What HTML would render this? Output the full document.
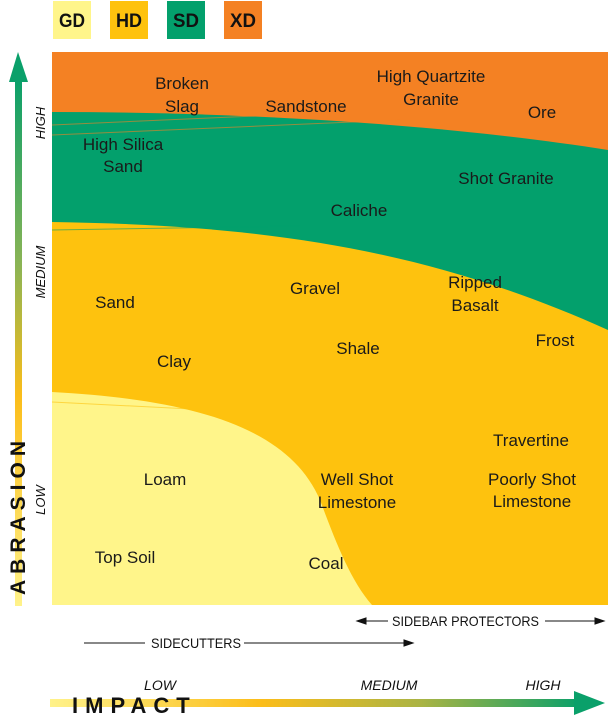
<!DOCTYPE html>
<html><head><style>
body{margin:0;background:#fff;}
svg{display:block;font-family:"Liberation Sans",sans-serif;}
</style></head><body>
<svg width="612" height="719" viewBox="0 0 612 719" xmlns="http://www.w3.org/2000/svg">
<defs>
<linearGradient id="vg" x1="0" y1="0" x2="0" y2="1">
<stop offset="0" stop-color="#0aa06a"/><stop offset="0.35" stop-color="#8ab455"/><stop offset="0.6" stop-color="#fbbd1a"/><stop offset="1" stop-color="#fff28a"/>
</linearGradient>
<linearGradient id="hg" x1="0" y1="0" x2="1" y2="0">
<stop offset="0" stop-color="#fff28a"/><stop offset="0.4" stop-color="#fbbd1a"/><stop offset="0.7" stop-color="#aab444"/><stop offset="1" stop-color="#0aa06a"/>
</linearGradient>
</defs>
<rect x="53" y="1" width="38" height="38" fill="#fff58a"/>
<rect x="110" y="1" width="38" height="38" fill="#fec20e"/>
<rect x="167" y="1" width="38" height="38" fill="#03a06c"/>
<rect x="224" y="1" width="38" height="38" fill="#f48123"/>
<g font-weight="bold" font-size="19" text-anchor="middle" fill="#111">
<text x="72" y="27" textLength="26" lengthAdjust="spacingAndGlyphs">GD</text><text x="129" y="27" textLength="26" lengthAdjust="spacingAndGlyphs">HD</text><text x="186" y="27" textLength="26" lengthAdjust="spacingAndGlyphs">SD</text><text x="243" y="27" textLength="26" lengthAdjust="spacingAndGlyphs">XD</text>
</g>
<rect x="52" y="52" width="556" height="553" fill="#f48123"/>
<path d="M52,112 C250,112 450,125 608,150 L608,605 L52,605 Z" fill="#03a06c"/>
<path d="M52,222 C250,225 420,245 608,330 L608,605 L52,605 Z" fill="#fec20e"/>
<path d="M52,392 C200,400 290,430 320,500 C335,540 350,580 372,605 L52,605 Z" fill="#fff58a"/>
<g stroke="#f48123" stroke-width="1" opacity="0.6">
<line x1="52" y1="125" x2="300" y2="114"/><line x1="52" y1="135" x2="400" y2="120"/>
</g>
<g stroke="#03a06c" stroke-width="1" opacity="0.6">
<line x1="52" y1="230" x2="300" y2="226"/>
</g>
<g stroke="#fec20e" stroke-width="1" opacity="0.6">
<line x1="52" y1="402" x2="250" y2="412"/>
</g>
<g font-size="17" text-anchor="middle" fill="#1a1a1a">
<text x="182" y="89">Broken</text><text x="182" y="112">Slag</text>
<text x="306" y="112">Sandstone</text>
<text x="431" y="82">High Quartzite</text><text x="431" y="105">Granite</text>
<text x="542" y="118">Ore</text>
<text x="123" y="150">High Silica</text><text x="123" y="172">Sand</text>
<text x="506" y="184">Shot Granite</text>
<text x="359" y="216">Caliche</text>
<text x="115" y="308">Sand</text>
<text x="315" y="294">Gravel</text>
<text x="475" y="288">Ripped</text><text x="475" y="311">Basalt</text>
<text x="555" y="346">Frost</text>
<text x="358" y="354">Shale</text>
<text x="174" y="367">Clay</text>
<text x="531" y="446">Travertine</text>
<text x="165" y="485">Loam</text>
<text x="357" y="485">Well Shot</text><text x="357" y="508">Limestone</text>
<text x="532" y="485">Poorly Shot</text><text x="532" y="507">Limestone</text>
<text x="125" y="563">Top Soil</text>
<text x="326" y="569">Coal</text>
</g>
<rect x="15" y="80" width="7" height="526" fill="url(#vg)"/>
<polygon points="9,82 18,52 28,82" fill="#0aa06a"/>
<g font-style="italic" font-size="13" fill="#111" text-anchor="middle">
<text transform="translate(45,123) rotate(-90)">HIGH</text>
<text transform="translate(45,272) rotate(-90)">MEDIUM</text>
<text transform="translate(45,500) rotate(-90)">LOW</text>
</g>
<text transform="translate(25,595) rotate(-90)" font-weight="bold" font-size="21" letter-spacing="6" fill="#111">ABRASION</text>
<g stroke="#111" stroke-width="1" fill="#111">
<line x1="362" y1="621" x2="388" y2="621"/><polygon points="357,621 366,618 366,624"/>
<line x1="545" y1="621" x2="597" y2="621"/><polygon points="604,621 595,618 595,624"/>
<line x1="84" y1="643" x2="145" y2="643"/><line x1="244" y1="643" x2="405" y2="643"/><polygon points="413,643 404,640 404,646"/>
</g>
<g font-size="14" fill="#111">
<text x="392" y="626" textLength="147" lengthAdjust="spacingAndGlyphs">SIDEBAR PROTECTORS</text>
<text x="151" y="648" textLength="90" lengthAdjust="spacingAndGlyphs">SIDECUTTERS</text>
</g>
<g font-style="italic" font-size="14" fill="#111" text-anchor="middle">
<text x="160" y="690">LOW</text><text x="389" y="690">MEDIUM</text><text x="543" y="690">HIGH</text>
</g>
<rect x="50" y="699" width="530" height="8" fill="url(#hg)"/>
<polygon points="574,691 605,703 574,715" fill="#0aa06a"/>
<text x="72" y="713" font-weight="bold" font-size="22" letter-spacing="7" fill="#111">IMPACT</text>
</svg>
</body></html>
